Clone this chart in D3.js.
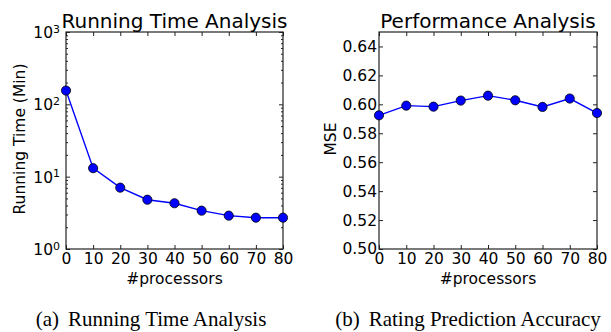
<!DOCTYPE html>
<html lang="en">
  <head>
    <meta charset="utf-8">
    <script src="https://d3js.org/d3.v7.min.js"></script>
    <style>
      body { margin: 0; background: #fff; }
      text { font-family: "DejaVu Sans", sans-serif; fill: #000; }
    </style>
  </head>
  <body>
    <svg width="611" height="332"></svg>
    <script>
      // data
      var processors = [0, 10, 20, 30, 40, 50, 60, 70, 80];
      var runTime = [155, 13.1, 7.05, 4.8, 4.29, 3.39, 2.89, 2.71, 2.71];
      var mse = [0.5924, 0.5991, 0.5984, 0.6026, 0.6060, 0.6028, 0.5982, 0.6040, 0.5940];
      var xTicks = [0, 10, 20, 30, 40, 50, 60, 70, 80];
      var logTicks = [1, 10, 100, 1000];
      var mseTicks = [0.50, 0.52, 0.54, 0.56, 0.58, 0.60, 0.62, 0.64];

      var svg = d3.select("svg");
      var plotTop = 32, plotBottom = 249;

      // minor ticks for the log axis
      var minorTicks = [];
      [1, 10, 100].forEach(function(d) {
        for (var k = 2; k < 10; k++) minorTicks.push(d * k);
      });

      function drawPanel(opt) {
        var g = svg.append("g");
        var x = d3.scaleLinear().domain([0, 80]).range([opt.left, opt.right]);
        var y = opt.y;

        // ticks pointing inwards on all four sides
        g.append("g")
          .attr("transform", "translate(0," + plotBottom + ")")
          .call(d3.axisBottom(x).tickValues(xTicks).tickSize(-4).tickPadding(4).tickFormat(d3.format("d")));
        g.append("g")
          .attr("transform", "translate(0," + plotTop + ")")
          .call(d3.axisTop(x).tickValues(xTicks).tickSize(-4).tickFormat(""));
        if (opt.minor) {
          g.append("g")
            .attr("transform", "translate(" + opt.left + ",0)")
            .call(d3.axisLeft(y).tickValues(minorTicks).tickSize(-2).tickFormat(""));
          g.append("g")
            .attr("transform", "translate(" + opt.right + ",0)")
            .call(d3.axisRight(y).tickValues(minorTicks).tickSize(-2).tickFormat(""));
        }
        var yl = g.append("g")
          .attr("transform", "translate(" + opt.left + ",0)")
          .call(d3.axisLeft(y).tickValues(opt.yTicks).tickSize(-4).tickPadding(opt.pad).tickFormat(opt.fmt));
        g.append("g")
          .attr("transform", "translate(" + opt.right + ",0)")
          .call(d3.axisRight(y).tickValues(opt.yTicks).tickSize(-4).tickFormat(""));

        g.selectAll(".domain").remove();
        g.selectAll(".tick line").attr("stroke", "#222").attr("stroke-width", 1);
        g.selectAll(".tick text")
          .style("font-family", "DejaVu Sans, sans-serif")
          .style("font-size", "15.5px")
          .attr("fill", "#000");

        if (opt.sup) {
          yl.selectAll(".tick text").each(function(d) {
            var t = d3.select(this);
            t.text("");
            t.attr("dy", "0.36em");
            t.append("tspan").text("10");
            t.append("tspan").attr("dy", "-0.5em").style("font-size", "11px").text(Math.round(Math.log10(d)));
          });
        }

        // frame
        g.append("rect")
          .attr("x", opt.left).attr("y", plotTop)
          .attr("width", opt.right - opt.left).attr("height", plotBottom - plotTop)
          .attr("fill", "none").attr("stroke", "#222").attr("stroke-width", 1.2);

        // series
        var line = d3.line()
          .x(function(d, i) { return x(processors[i]); })
          .y(function(d) { return y(d); });
        g.append("path")
          .datum(opt.values)
          .attr("d", line)
          .attr("fill", "none")
          .attr("stroke", "#0000ff")
          .attr("stroke-width", 1.4);
        g.selectAll("circle")
          .data(opt.values)
          .enter().append("circle")
            .attr("cx", function(d, i) { return x(processors[i]); })
            .attr("cy", function(d) { return y(d); })
            .attr("r", 4.6)
            .attr("fill", "#0000ff")
            .attr("stroke", "#000")
            .attr("stroke-width", 0.8);

        // titles and labels
        var cx = (opt.left + opt.right) / 2;
        g.append("text")
          .attr("x", cx).attr("y", 28)
          .attr("text-anchor", "middle")
          .style("font-size", "20px")
          .text(opt.title);
        g.append("text")
          .attr("x", cx).attr("y", 284)
          .attr("text-anchor", "middle")
          .style("font-size", "15.5px")
          .text("#processors");
        g.append("text")
          .attr("transform", "translate(" + opt.ylabX + ",139) rotate(-90)")
          .attr("text-anchor", "middle")
          .style("font-size", "15.5px")
          .text(opt.ylabel);

        // caption
        var cap = g.append("text")
          .attr("x", opt.capX).attr("y", 326)
          .attr("text-anchor", "middle")
          .style("font-family", "Liberation Serif, Times New Roman, serif")
          .style("font-size", "21px");
        cap.append("tspan").text(opt.capA);
        cap.append("tspan").attr("dx", 9).text(opt.capB);
      }

      drawPanel({
        left: 66, right: 283,
        y: d3.scaleLog().domain([1, 1000]).range([plotBottom, plotTop]),
        yTicks: logTicks, fmt: "", pad: 6, sup: true, minor: true,
        values: runTime,
        title: "Running Time Analysis",
        ylabel: "Running Time (Min)", ylabX: 25,
        capX: 151, capA: "(a)", capB: "Running Time Analysis"
      });

      drawPanel({
        left: 379, right: 597,
        y: d3.scaleLinear().domain([0.50, 0.65]).range([plotBottom, plotTop]),
        yTicks: mseTicks, fmt: d3.format(".2f"), pad: 2, sup: false, minor: false,
        values: mse,
        title: "Performance Analysis",
        ylabel: "MSE", ylabX: 336,
        capX: 468, capA: "(b)", capB: "Rating Prediction Accuracy"
      });
    </script>
  </body>
</html>
